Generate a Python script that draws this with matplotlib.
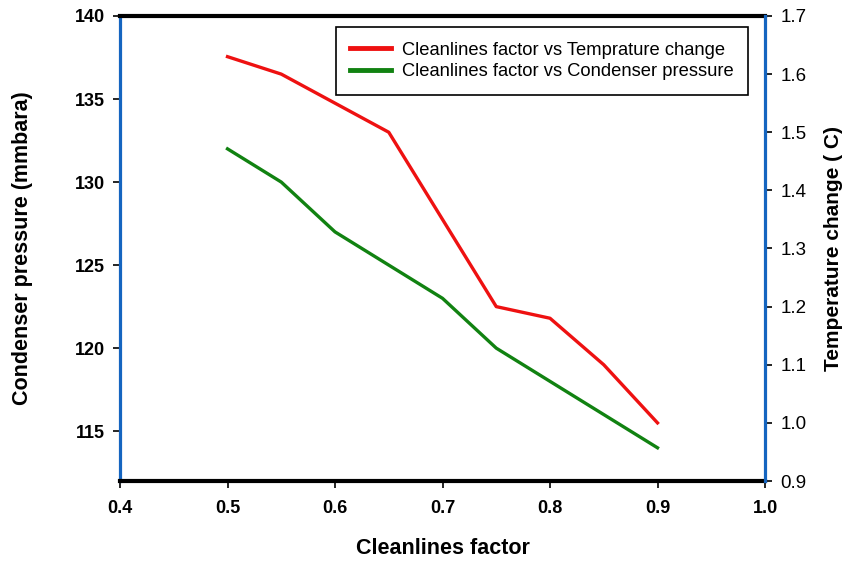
import numpy as np
import matplotlib.pyplot as plt

plt.rcParams['font.family'] = ['Liberation Sans', 'DejaVu Sans']

# data
clean_factor = [0.5, 0.55, 0.6, 0.65, 0.7, 0.75, 0.8, 0.85, 0.9]
temp_change = [1.63, 1.60, 1.55, 1.50, 1.35, 1.20, 1.18, 1.10, 1.00]
cond_pressure = [132, 130, 127, 125, 123, 120, 118, 116, 114]

x_ticks = [0.4, 0.5, 0.6, 0.7, 0.8, 0.9, 1.0]
left_ticks = [115, 120, 125, 130, 135, 140]
right_ticks = [0.9, 1.0, 1.1, 1.2, 1.3, 1.4, 1.5, 1.6, 1.7]

blue = '#1565c0'

fig = plt.figure(figsize=(8.5, 5.61), dpi=100)
ax = fig.add_axes([0.1412, 0.1426, 0.7588, 0.8289])
ax2 = ax.twinx()

l2, = ax.plot(clean_factor, cond_pressure, color='#118211', lw=2.4,
              label='Cleanlines factor vs Condenser pressure')
l1, = ax2.plot(clean_factor, temp_change, color='#ee1111', lw=2.4,
               label='Cleanlines factor vs Temprature change')

ax.set_xlim(0.4, 1.0)
ax.set_ylim(112, 140)
ax2.set_ylim(0.9, 1.7)

ax.set_xticks(x_ticks)
ax.set_xticklabels(['%.1f' % v for v in x_ticks], fontsize=13, fontweight='bold')
ax.set_yticks(left_ticks)
ax.set_yticklabels([str(v) for v in left_ticks], fontsize=13, fontweight='bold')
ax2.set_yticks(right_ticks)
ax2.set_yticklabels(['%.1f' % v for v in right_ticks], fontsize=13.5)

ax.tick_params(axis='x', length=5, width=1.2, pad=9)
ax.tick_params(axis='y', length=5, width=1.2, pad=6)
ax2.tick_params(axis='y', length=5, width=1.2, pad=6)

for s in ['top', 'bottom']:
    ax.spines[s].set_color('black')
    ax.spines[s].set_linewidth(3)
ax.spines['left'].set_color(blue)
ax.spines['left'].set_linewidth(2.3)
ax.spines['right'].set_visible(False)
for s in ['top', 'bottom', 'left']:
    ax2.spines[s].set_visible(False)
ax2.spines['right'].set_color(blue)
ax2.spines['right'].set_linewidth(2.3)

ax.set_xlabel('Cleanlines factor', fontsize=15.5, fontweight='bold', labelpad=15)
ax.set_ylabel('Condenser pressure (mmbara)', fontsize=15.5, fontweight='bold', labelpad=30)
ax2.set_ylabel('Temperature change ( C)', fontsize=15, fontweight='bold', labelpad=13)

leg = ax2.legend(handles=[l1, l2], loc='upper right', bbox_to_anchor=(0.9736, 0.976),
                 borderaxespad=0, fancybox=False, edgecolor='black', fontsize=13.2,
                 handlelength=2.2, handletextpad=0.6, borderpad=0.8,
                 labelspacing=0.25, framealpha=1)
leg.get_frame().set_linewidth(1.2)
for h in leg.get_lines():
    h.set_linewidth(3.5)

fig.savefig('out.png', dpi=100)
